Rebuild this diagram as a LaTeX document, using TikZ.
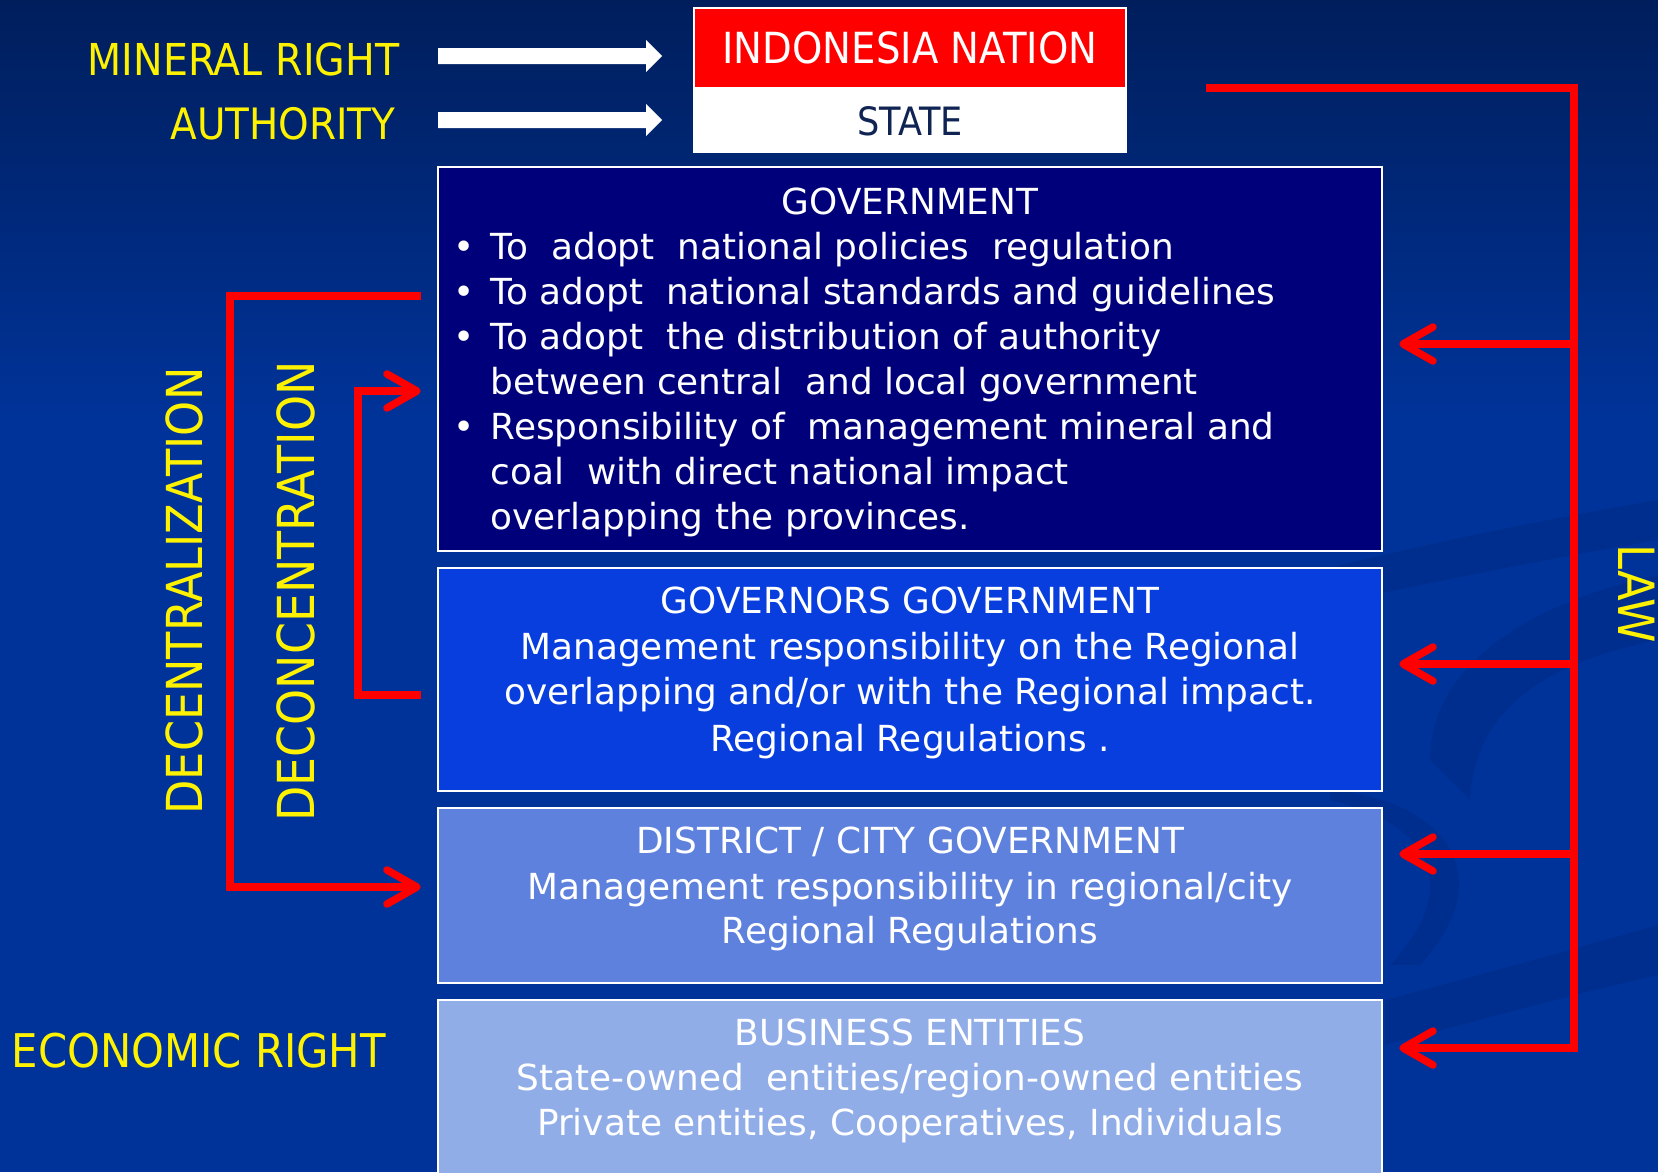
\documentclass[tikz,border=0pt]{standalone}
\usepackage{fontspec}
\setmainfont{DejaVu Sans}
\newfontfamily\condfont[FakeStretch=0.9]{DejaVu Sans}
\usetikzlibrary{arrows.meta}
\definecolor{bgtop}{RGB}{0,30,92}
\definecolor{bgmid}{RGB}{0,51,153}
\definecolor{govblue}{RGB}{0,0,122}
\definecolor{govrblue}{RGB}{8,61,222}
\definecolor{distblue}{RGB}{94,129,222}
\definecolor{busblue}{RGB}{145,173,232}
\definecolor{statecol}{RGB}{16,36,84}
\definecolor{swooshcol}{RGB}{0,25,100}
\tikzset{
  boxtxt/.style={text=white, font=\fontsize{10.2}{12}\selectfont, inner sep=0pt, anchor=base},
  yel/.style={text=yellow, inner sep=0pt, anchor=base},
  tier/.style={draw=white, line width=0.6pt, minimum width=9.44cm, inner sep=0pt, outer sep=0pt},
  redline/.style={draw=red, line width=2.13pt},
  redtip/.style={-{Straight Barb[length=0.3cm,width=0.34cm,round]}, shorten >=0.17cm},
  swoosh/.style={fill=swooshcol, fill opacity=0.18},
}
\begin{document}
\begin{tikzpicture}[x=0.01cm,y=-0.01cm]
\useasboundingbox (0,0) rectangle (1658,1172);
\clip (0,0) rectangle (1658,1172);
% background
\fill[bgmid] (0,0) rectangle (1658,1172);
\shade[top color=bgtop, bottom color=bgmid] (0,0) rectangle (1658,420);
% subtle swooshes
\fill[swoosh] (1300,575) .. controls (1420,545) and (1540,520) .. (1658,500) -- (1658,540) .. controls (1540,560) and (1420,585) .. (1300,610) -- cycle;
\fill[swoosh] (1430,760) .. controls (1430,660) and (1540,600) .. (1658,575) -- (1658,640) .. controls (1560,660) and (1475,700) .. (1470,800) -- cycle;
\fill[swoosh] (1330,800) .. controls (1420,820) and (1470,880) .. (1390,965) -- (1420,965) .. controls (1500,880) and (1450,800) .. (1330,790) -- cycle;
\fill[swoosh] (1385,1000) .. controls (1480,975) and (1570,950) .. (1658,925) -- (1658,975) .. controls (1570,995) and (1480,1020) .. (1385,1045) -- cycle;

% top boxes
\node[draw=white, line width=0.6pt, fill=white, minimum width=4.32cm, minimum height=1.44cm, inner sep=0pt, outer sep=0pt] (state) at (910,80) {};
\node[fill=red, minimum width=4.30cm, minimum height=0.78cm, inner sep=0pt, outer sep=0pt] (nation) at (910,48) {};
\node[inner sep=0pt, anchor=base, text=white, font=\condfont\fontsize{12.2}{14}\selectfont] (nationtxt) at (910,63) {INDONESIA NATION};
\node[inner sep=0pt, anchor=base, text=statecol, font=\condfont\fontsize{11.1}{13}\selectfont] (statetxt) at (910,135) {STATE};

% white block arrows
\fill[white] (438,48) -- (646,48) -- (646,40) -- (662,56) -- (646,72) -- (646,64) -- (438,64) -- cycle;
\fill[white] (438,112) -- (646,112) -- (646,104) -- (662,120) -- (646,136) -- (646,128) -- (438,128) -- cycle;

% yellow labels
\node[yel, anchor=base east, font=\condfont\fontsize{12.5}{14}\selectfont] (mineral) at (400,75) {MINERAL RIGHT};
\node[yel, anchor=base east, font=\condfont\fontsize{12.3}{14}\selectfont] (authority) at (396,139) {AUTHORITY};
\node[yel, anchor=base west, font=\condfont\fontsize{13.2}{15}\selectfont] (economic) at (11,1067) {ECONOMIC RIGHT};
\node[yel, rotate=90, font=\condfont\fontsize{14.1}{16}\selectfont] (decentral) at (202,591) {DECENTRALIZATION};
\node[yel, rotate=90, font=\condfont\fontsize{14.5}{16}\selectfont] (deconc) at (314,591.5) {DECONCENTRATION};
\node[yel, rotate=-90, font=\condfont\fontsize{14.2}{16}\selectfont] (law) at (1618,594) {LAW};

% tier boxes
\node[tier, fill=govblue, minimum height=3.84cm] (gov) at (910,359) {};
\node[tier, fill=govrblue, minimum height=2.23cm] (govr) at (910,679.5) {};
\node[tier, fill=distblue, minimum height=1.75cm] (dist) at (910,895.5) {};
\node[tier, fill=busblue, minimum height=1.80cm] (bus) at (910,1090) {};

% government text
\node[boxtxt] (govt) at (910,214) {GOVERNMENT};
\node[boxtxt] (bu1) at (464,259) {\textbullet};
\node[boxtxt, anchor=base west] (g1) at (490,259) {To\ \ adopt\ \ national policies\ \ regulation};
\node[boxtxt] (bu2) at (464,304) {\textbullet};
\node[boxtxt, anchor=base west] (g2) at (490,304) {To adopt\ \ national standards and guidelines};
\node[boxtxt] (bu3) at (464,349) {\textbullet};
\node[boxtxt, anchor=base west] (g3) at (490,349) {To adopt\ \ the distribution of authority};
\node[boxtxt, anchor=base west] (g4) at (490,394) {between central\ \ and local government};
\node[boxtxt] (bu5) at (464,439) {\textbullet};
\node[boxtxt, anchor=base west] (g5) at (490,439) {Responsibility of\ \ management mineral and};
\node[boxtxt, anchor=base west] (g6) at (490,484) {coal\ \ with direct national impact};
\node[boxtxt, anchor=base west] (g7) at (490,529) {overlapping the provinces.};

% governors text
\node[boxtxt] (grt) at (910,613) {GOVERNORS GOVERNMENT};
\node[boxtxt] (gr1) at (910,659) {Management responsibility on the Regional};
\node[boxtxt] (gr2) at (910,704) {overlapping and/or with the Regional impact.};
\node[boxtxt] (gr3) at (910,751) {Regional Regulations .};

% district text
\node[boxtxt] (dt) at (910,853) {DISTRICT / CITY GOVERNMENT};
\node[boxtxt] (d1) at (910,899) {Management responsibility in regional/city};
\node[boxtxt] (d2) at (910,943) {Regional Regulations};

% business text
\node[boxtxt] (bt) at (910,1045) {BUSINESS ENTITIES};
\node[boxtxt] (b1) at (910,1090) {State-owned\ \ entities/region-owned entities};
\node[boxtxt] (b2) at (910,1135) {Private entities, Cooperatives, Individuals};

% LAW connectors
\coordinate (lawstart) at (1206,88);
\coordinate (lawcorner) at (1574,88);
\coordinate (lawend) at (1574,1048);
\coordinate (j1) at (1574,344);
\coordinate (j2) at (1574,664);
\coordinate (j3) at (1574,854);
\draw[redline, redtip] (lawstart) -- (lawcorner) -- (lawend) -- (bus.east |- lawend);
\draw[redline, redtip] (j1) -- (gov.east |- j1);
\draw[redline, redtip] (j2) -- (govr.east |- j2);
\draw[redline, redtip] (j3) -- (dist.east |- j3);

% decentralization bracket
\coordinate (dz1) at (421,296);
\coordinate (dz2) at (230,296);
\coordinate (dz3) at (230,887);
\draw[redline, redtip] (dz1) -- (dz2) -- (dz3) -- (dist.west |- dz3);

% deconcentration bracket
\coordinate (dn1) at (421,695);
\coordinate (dn2) at (358,695);
\coordinate (dn3) at (358,391);
\draw[redline, redtip] (dn1) -- (dn2) -- (dn3) -- (gov.west |- dn3);
\end{tikzpicture}
\end{document}
